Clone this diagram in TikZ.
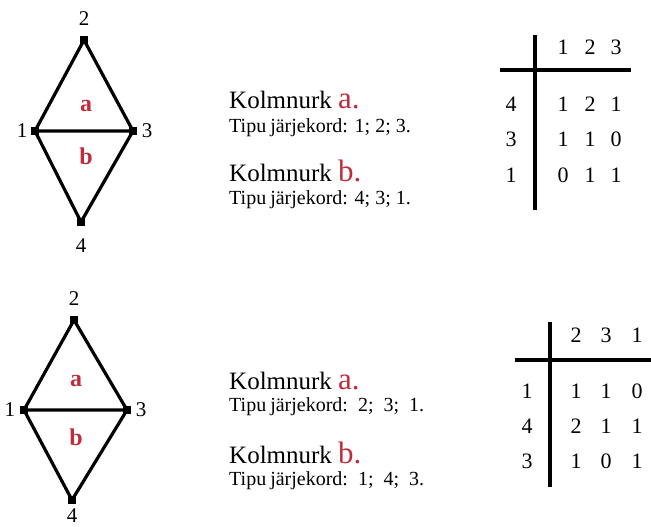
\documentclass[tikz,border=0pt]{standalone}
\usepackage{fontspec}
\setmainfont{Liberation Serif}
\definecolor{lblred}{RGB}{190,45,60}
\begin{document}
\begin{tikzpicture}[x=1pt,y=-1pt,
  vtx/.style={rectangle,fill=black,minimum size=8pt,inner sep=0pt},
  vlab/.style={inner sep=0pt,font=\fontsize{21}{21}\selectfont},
  face/.style={inner sep=0pt,text=lblred,font=\fontsize{24}{24}\selectfont\bfseries},
  edge/.style={line width=3.2pt,line cap=round,line join=round},
  tline/.style={line width=3.2pt},
  head/.style={anchor=base west,inner sep=0pt,font=\fontsize{25}{25}\selectfont},
  sub/.style={anchor=base west,inner sep=0pt,font=\fontsize{20}{20}\selectfont},
  cell/.style={inner sep=0pt,font=\fontsize{22}{22}\selectfont}]
\useasboundingbox (0,0) rectangle (651,527);
\newcommand{\redbig}[1]{{\color{lblred}\fontsize{31}{31}\selectfont #1}}
% ---------- top diagram ----------
\node[vtx] (t2) at (84,40) {};
\node[vtx] (t1) at (35,131) {};
\node[vtx] (t3) at (133,131) {};
\node[vtx] (t4) at (81,222) {};
\draw[edge] (t1.center) -- (t2.center) -- (t3.center) -- (t4.center) -- (t1.center) -- (t3.center);
\node[vlab] (lt2) at (84,19) {2};
\node[vlab] (lt1) at (22,131) {1};
\node[vlab] (lt3) at (147,131) {3};
\node[vlab] (lt4) at (81,246) {4};
\node[face] (ta) at (86,106) {a};
\node[face] (tb) at (86,156) {b};
\node[head] (tka) at (229,109) {Kolmnurk \redbig{a.}};
\node[sub] (tta) at (229,132) {Tipu\hspace{0.2em}järjekord: 1; 2; 3.};
\node[head] (tkb) at (229,181) {Kolmnurk \redbig{b.}};
\node[sub] (ttb) at (229,204) {Tipu\hspace{0.2em}järjekord: 4; 3; 1.};
% top table
\coordinate (tv1) at (535,35);
\coordinate (tv2) at (535,210);
\coordinate (th1) at (500,70);
\coordinate (th2) at (631,70);
\draw[tline] (tv1) -- (tv2);
\draw[tline] (th1) -- (th2);
\node[cell] (tc01) at (563,47) {1};
\node[cell] (tc02) at (590,47) {2};
\node[cell] (tc03) at (616,47) {3};
\node[cell] (tr1) at (511,104) {4};
\node[cell] (tr2) at (511,139) {3};
\node[cell] (tr3) at (511,175) {1};
\node[cell] (tc11) at (563,104) {1};
\node[cell] (tc12) at (590,104) {2};
\node[cell] (tc13) at (616,104) {1};
\node[cell] (tc21) at (563,139) {1};
\node[cell] (tc22) at (590,139) {1};
\node[cell] (tc23) at (616,139) {0};
\node[cell] (tc31) at (563,175) {0};
\node[cell] (tc32) at (590,175) {1};
\node[cell] (tc33) at (616,175) {1};
% ---------- bottom diagram ----------
\node[vtx] (b2) at (74,320) {};
\node[vtx] (b1) at (24,410) {};
\node[vtx] (b3) at (127,410) {};
\node[vtx] (b4) at (72,500) {};
\draw[edge] (b1.center) -- (b2.center) -- (b3.center) -- (b4.center) -- (b1.center) -- (b3.center);
\node[vlab] (lb2) at (74,299) {2};
\node[vlab] (lb1) at (10,410) {1};
\node[vlab] (lb3) at (141,410) {3};
\node[vlab] (lb4) at (72,516) {4};
\node[face] (ba) at (76,381) {a};
\node[face] (bb) at (76,437) {b};
\node[head] (bka) at (229,389) {Kolmnurk \redbig{a.}};
\node[sub] (bta) at (229,411) {Tipu\hspace{0.2em}järjekord:\ \ 2;\ \ 3;\ \ 1.};
\node[head] (bkb) at (229,463) {Kolmnurk \redbig{b.}};
\node[sub] (btb) at (229,485) {Tipu\hspace{0.2em}järjekord:\ \ 1;\ \ 4;\ \ 3.};
% bottom table
\coordinate (bv1) at (550,322);
\coordinate (bv2) at (550,487);
\coordinate (bh1) at (515,360);
\coordinate (bh2) at (651,360);
\draw[tline] (bv1) -- (bv2);
\draw[tline] (bh1) -- (bh2);
\node[cell] (bc01) at (576,335) {2};
\node[cell] (bc02) at (606,335) {3};
\node[cell] (bc03) at (637,335) {1};
\node[cell] (br1) at (527,391) {1};
\node[cell] (br2) at (527,426) {4};
\node[cell] (br3) at (527,461) {3};
\node[cell] (bc11) at (576,391) {1};
\node[cell] (bc12) at (606,391) {1};
\node[cell] (bc13) at (637,391) {0};
\node[cell] (bc21) at (576,426) {2};
\node[cell] (bc22) at (606,426) {1};
\node[cell] (bc23) at (637,426) {1};
\node[cell] (bc31) at (576,461) {1};
\node[cell] (bc32) at (606,461) {0};
\node[cell] (bc33) at (637,461) {1};
\end{tikzpicture}
\end{document}
